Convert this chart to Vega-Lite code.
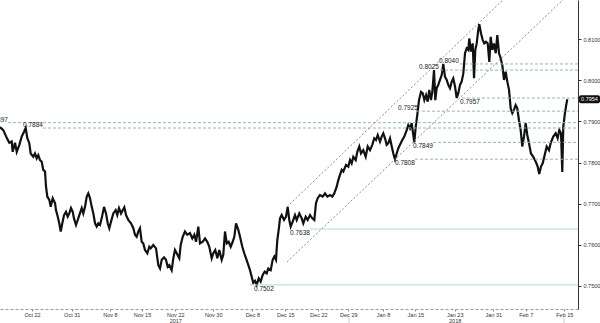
{
  "$schema": "https://vega.github.io/schema/vega-lite/v6.json",
  "width": 578,
  "height": 309,
  "autosize": {"type": "none"},
  "padding": {"left": 0, "top": 0, "right": 22, "bottom": 14},
  "background": "white",
  "config": {"view": {"stroke": null}, "font": "Liberation Sans"},
  "datasets": {
    "price": [
      {"t":-5.79,"v":0.7886},{"t":-5.27,"v":0.7879},{"t":-4.73,"v":0.7860},{"t":-4.32,"v":0.7848},{"t":-3.94,"v":0.7851},{"t":-3.79,"v":0.7826},{"t":-3.42,"v":0.7848},{"t":-3.15,"v":0.7826},{"t":-2.74,"v":0.7843},{"t":-2.37,"v":0.7863},{"t":-2.00,"v":0.7875},{"t":-1.74,"v":0.7884},{"t":-1.48,"v":0.7859},{"t":-1.17,"v":0.7847},{"t":-0.95,"v":0.7822},{"t":-0.54,"v":0.7814},{"t":-0.27,"v":0.7822},{"t":0,"v":0.7810},{"t":0.25,"v":0.7818},{"t":0.52,"v":0.7806},{"t":0.79,"v":0.7802},{"t":1.04,"v":0.7782},{"t":1.31,"v":0.7778},{"t":1.47,"v":0.7741},{"t":1.67,"v":0.7717},{"t":1.99,"v":0.7709},{"t":2.21,"v":0.7692},{"t":2.52,"v":0.7713},{"t":2.89,"v":0.7701},{"t":3.04,"v":0.7684},{"t":3.25,"v":0.7672},{"t":3.56,"v":0.7652},{"t":3.79,"v":0.7632},{"t":4.04,"v":0.7652},{"t":4.31,"v":0.7672},{"t":4.62,"v":0.7680},{"t":4.89,"v":0.7668},{"t":5.14,"v":0.7676},{"t":5.41,"v":0.7689},{"t":5.68,"v":0.7680},{"t":5.88,"v":0.7664},{"t":6.20,"v":0.7648},{"t":6.47,"v":0.7660},{"t":6.72,"v":0.7672},{"t":7.10,"v":0.7689},{"t":7.35,"v":0.7676},{"t":7.62,"v":0.7692},{"t":7.89,"v":0.7717},{"t":8.14,"v":0.7725},{"t":8.41,"v":0.7713},{"t":8.68,"v":0.7692},{"t":8.93,"v":0.7676},{"t":9.20,"v":0.7652},{"t":9.46,"v":0.7644},{"t":9.72,"v":0.7652},{"t":9.98,"v":0.7648},{"t":10.25,"v":0.7664},{"t":10.62,"v":0.7692},{"t":10.93,"v":0.7676},{"t":11.20,"v":0.7652},{"t":11.45,"v":0.7640},{"t":11.72,"v":0.7656},{"t":12.08,"v":0.7676},{"t":12.46,"v":0.7684},{"t":12.71,"v":0.7672},{"t":12.98,"v":0.7689},{"t":13.30,"v":0.7676},{"t":13.56,"v":0.7684},{"t":13.82,"v":0.7691},{"t":14.09,"v":0.7672},{"t":14.45,"v":0.7660},{"t":14.87,"v":0.7652},{"t":15.24,"v":0.7640},{"t":15.50,"v":0.7624},{"t":15.77,"v":0.7619},{"t":16.03,"v":0.7632},{"t":16.29,"v":0.7640},{"t":16.56,"v":0.7607},{"t":16.81,"v":0.7603},{"t":17.08,"v":0.7587},{"t":17.45,"v":0.7579},{"t":17.76,"v":0.7595},{"t":17.98,"v":0.7591},{"t":18.39,"v":0.7599},{"t":18.82,"v":0.7591},{"t":19.18,"v":0.7550},{"t":19.45,"v":0.7542},{"t":19.72,"v":0.7563},{"t":20.08,"v":0.7569},{"t":20.39,"v":0.7563},{"t":20.66,"v":0.7546},{"t":20.92,"v":0.7550},{"t":21.29,"v":0.7538},{"t":21.55,"v":0.7567},{"t":21.81,"v":0.7587},{"t":22.08,"v":0.7579},{"t":22.49,"v":0.7567},{"t":22.71,"v":0.7599},{"t":23.03,"v":0.7619},{"t":23.39,"v":0.7632},{"t":23.75,"v":0.7624},{"t":24.18,"v":0.7628},{"t":24.54,"v":0.7615},{"t":24.86,"v":0.7624},{"t":25.13,"v":0.7607},{"t":25.49,"v":0.7644},{"t":25.76,"v":0.7603},{"t":26.18,"v":0.7607},{"t":26.55,"v":0.7615},{"t":26.91,"v":0.7607},{"t":27.22,"v":0.7595},{"t":27.60,"v":0.7567},{"t":27.86,"v":0.7579},{"t":28.17,"v":0.7587},{"t":28.49,"v":0.7567},{"t":28.80,"v":0.7587},{"t":29.18,"v":0.7563},{"t":29.43,"v":0.7575},{"t":29.70,"v":0.7632},{"t":29.97,"v":0.7603},{"t":30.28,"v":0.7607},{"t":30.60,"v":0.7595},{"t":30.91,"v":0.7607},{"t":31.17,"v":0.7619},{"t":31.44,"v":0.7652},{"t":31.80,"v":0.7636},{"t":32.07,"v":0.7619},{"t":32.43,"v":0.7595},{"t":32.74,"v":0.7579},{"t":33.01,"v":0.7567},{"t":33.28,"v":0.7555},{"t":33.64,"v":0.7538},{"t":33.91,"v":0.7522},{"t":34.16,"v":0.7507},{"t":34.43,"v":0.7512},{"t":34.70,"v":0.7502},{"t":35.02,"v":0.7518},{"t":35.33,"v":0.7510},{"t":35.65,"v":0.7526},{"t":35.96,"v":0.7534},{"t":36.28,"v":0.7530},{"t":36.53,"v":0.7542},{"t":36.91,"v":0.7538},{"t":37.22,"v":0.7563},{"t":37.48,"v":0.7571},{"t":37.74,"v":0.7563},{"t":37.95,"v":0.7611},{"t":38.17,"v":0.7636},{"t":38.38,"v":0.7664},{"t":38.64,"v":0.7672},{"t":39.01,"v":0.7660},{"t":39.32,"v":0.7668},{"t":39.59,"v":0.7692},{"t":39.84,"v":0.7660},{"t":40.06,"v":0.7644},{"t":40.38,"v":0.7656},{"t":40.74,"v":0.7672},{"t":41.01,"v":0.7660},{"t":41.42,"v":0.7676},{"t":41.80,"v":0.7664},{"t":42.05,"v":0.7652},{"t":42.43,"v":0.7668},{"t":42.74,"v":0.7660},{"t":43.11,"v":0.7672},{"t":43.47,"v":0.7664},{"t":43.79,"v":0.7660},{"t":44.05,"v":0.7701},{"t":44.32,"v":0.7713},{"t":44.68,"v":0.7721},{"t":45.11,"v":0.7717},{"t":45.47,"v":0.7725},{"t":45.84,"v":0.7717},{"t":46.26,"v":0.7721},{"t":46.62,"v":0.7717},{"t":46.94,"v":0.7725},{"t":47.32,"v":0.7741},{"t":47.57,"v":0.7757},{"t":47.84,"v":0.7770},{"t":48.11,"v":0.7782},{"t":48.36,"v":0.7778},{"t":48.79,"v":0.7794},{"t":49.15,"v":0.7790},{"t":49.42,"v":0.7806},{"t":49.68,"v":0.7798},{"t":49.94,"v":0.7814},{"t":50.32,"v":0.7806},{"t":50.57,"v":0.7826},{"t":50.88,"v":0.7839},{"t":51.15,"v":0.7822},{"t":51.51,"v":0.7830},{"t":51.89,"v":0.7814},{"t":52.21,"v":0.7839},{"t":52.57,"v":0.7830},{"t":52.93,"v":0.7843},{"t":53.25,"v":0.7859},{"t":53.52,"v":0.7855},{"t":53.79,"v":0.7867},{"t":54.15,"v":0.7851},{"t":54.42,"v":0.7863},{"t":54.67,"v":0.7871},{"t":54.94,"v":0.7859},{"t":55.20,"v":0.7843},{"t":55.46,"v":0.7847},{"t":55.73,"v":0.7859},{"t":56.00,"v":0.7839},{"t":56.25,"v":0.7822},{"t":56.51,"v":0.7808},{"t":56.78,"v":0.7822},{"t":57.04,"v":0.7835},{"t":57.30,"v":0.7843},{"t":57.67,"v":0.7855},{"t":57.98,"v":0.7863},{"t":58.36,"v":0.7879},{"t":58.61,"v":0.7891},{"t":58.88,"v":0.7883},{"t":59.15,"v":0.7896},{"t":59.40,"v":0.7867},{"t":59.56,"v":0.7849},{"t":59.78,"v":0.7887},{"t":60.03,"v":0.7916},{"t":60.30,"v":0.7952},{"t":60.62,"v":0.7972},{"t":60.88,"v":0.7969},{"t":61.14,"v":0.7952},{"t":61.41,"v":0.7964},{"t":61.67,"v":0.7948},{"t":61.92,"v":0.7977},{"t":62.19,"v":0.7952},{"t":62.40,"v":0.7972},{"t":62.67,"v":0.8025},{"t":62.87,"v":0.7952},{"t":63.09,"v":0.7981},{"t":63.34,"v":0.7989},{"t":63.61,"v":0.8001},{"t":63.88,"v":0.8013},{"t":64.13,"v":0.8040},{"t":64.40,"v":0.8009},{"t":64.67,"v":0.8001},{"t":64.92,"v":0.7989},{"t":65.19,"v":0.7981},{"t":65.46,"v":0.7997},{"t":65.71,"v":0.8005},{"t":65.98,"v":0.7985},{"t":66.25,"v":0.7957},{"t":66.50,"v":0.7969},{"t":66.77,"v":0.7989},{"t":67.03,"v":0.7997},{"t":67.29,"v":0.8017},{"t":67.56,"v":0.8066},{"t":67.82,"v":0.8078},{"t":68.08,"v":0.8074},{"t":68.23,"v":0.8102},{"t":68.50,"v":0.8070},{"t":68.77,"v":0.8090},{"t":68.98,"v":0.8005},{"t":69.18,"v":0.8074},{"t":69.40,"v":0.8090},{"t":69.65,"v":0.8123},{"t":69.81,"v":0.8137},{"t":70.08,"v":0.8115},{"t":70.35,"v":0.8098},{"t":70.60,"v":0.8090},{"t":70.87,"v":0.8094},{"t":71.14,"v":0.8090},{"t":71.39,"v":0.8045},{"t":71.61,"v":0.8106},{"t":71.86,"v":0.8074},{"t":72.13,"v":0.8090},{"t":72.40,"v":0.8066},{"t":72.65,"v":0.8110},{"t":72.92,"v":0.8066},{"t":73.19,"v":0.8054},{"t":73.44,"v":0.8037},{"t":73.71,"v":0.8001},{"t":73.97,"v":0.8021},{"t":74.23,"v":0.7997},{"t":74.50,"v":0.7977},{"t":74.76,"v":0.7932},{"t":75.02,"v":0.7920},{"t":75.28,"v":0.7928},{"t":75.55,"v":0.7940},{"t":75.80,"v":0.7932},{"t":76.07,"v":0.7903},{"t":76.34,"v":0.7879},{"t":76.59,"v":0.7839},{"t":76.86,"v":0.7863},{"t":77.13,"v":0.7896},{"t":77.38,"v":0.7867},{"t":77.65,"v":0.7847},{"t":77.96,"v":0.7822},{"t":78.33,"v":0.7814},{"t":78.71,"v":0.7802},{"t":79.02,"v":0.7790},{"t":79.27,"v":0.7772},{"t":79.54,"v":0.7790},{"t":79.81,"v":0.7798},{"t":80.06,"v":0.7814},{"t":80.44,"v":0.7839},{"t":80.80,"v":0.7830},{"t":81.07,"v":0.7847},{"t":81.48,"v":0.7863},{"t":81.86,"v":0.7871},{"t":82.17,"v":0.7859},{"t":82.43,"v":0.7879},{"t":82.70,"v":0.7871},{"t":82.90,"v":0.7777},{"t":83.06,"v":0.7887},{"t":83.32,"v":0.7920},{"t":83.48,"v":0.7936},{"t":83.69,"v":0.7954}
    ],
    "levels": [
      {"v":0.8040,"t":66.77,"tl":63.45,"kind":"dash","pos":"above"},
      {"v":0.8025,"t":63.61,"tl":60.30,"kind":"dash","pos":"above"},
      {"v":0.7957,"t":67.08,"tl":66.77,"kind":"dash","pos":"below"},
      {"v":0.7925,"t":59.98,"tl":56.99,"kind":"dash","pos":"above"},
      {"v":0.7897,"t":-4.53,"tl":-7.68,"kind":"dash","pos":"above"},
      {"v":0.7884,"t":0.99,"tl":-2.16,"kind":"dash","pos":"above"},
      {"v":0.7849,"t":62.51,"tl":59.35,"kind":"dash","pos":"below"},
      {"v":0.7808,"t":59.67,"tl":56.51,"kind":"dash","pos":"below"},
      {"v":0.7638,"t":43.12,"tl":39.96,"kind":"solid","pos":"below"},
      {"v":0.7502,"t":33.64,"tl":34.27,"kind":"solid","pos":"below"}
    ],
    "channels": [
      {"c":"upper","t":39.48,"v":0.7692},{"c":"upper","t":73.55,"v":0.8196},
      {"c":"lower","t":39.48,"v":0.7558},{"c":"lower","t":83.01,"v":0.8196}
    ],
    "marks": [
      {"t":49.26},{"t":83.17}
    ],
    "last": [{"v":0.7954}]
  },
  "layer": [
    {
      "data": {"name": "price"},
      "mark": {"type": "line", "color": "#111111", "strokeWidth": 2.2, "strokeJoin": "miter", "clip": true},
      "encoding": {
        "x": {
          "field": "t", "type": "quantitative", "title": null,
          "scale": {"domain": [-5.79, 85.38], "nice": false, "zero": false},
          "axis": {
            "title": null, "orient": "bottom",
            "values": [-0.74, 5.52, 11.56, 16.61, 21.86, 27.85, 34.01, 39.21, 44.42, 49.15, 54.62, 59.72, 65.93, 72.02, 77.13, 83.22],
            "tickCount": 60,
            "labelExpr": "['Oct 22','Oct 31','Nov 8','Nov 15',['Nov 22','2017'],'Nov 30','Dec 8','Dec 15','Dec 22','Dec 29','Jan 8','Jan 15',['Jan 23','2018'],'Jan 31','Feb 7','Feb 15'][indexof([-0.74,5.52,11.56,16.61,21.86,27.85,34.01,39.21,44.42,49.15,54.62,59.72,65.93,72.02,77.13,83.22], datum.value)]",
            "labelFontSize": 5.5, "labelColor": "#333333", "labelFont": "Liberation Sans",
            "labelLineHeight": 6.5, "labelPadding": 1, "labelBaseline": "top",
            "labelOverlap": false, "labelFlush": false, "labelBound": false,
            "tickSize": 2, "tickColor": "#888888",
            "domainColor": "#999999", "domainDash": [3, 2], "grid": false
          }
        },
        "y": {
          "field": "v", "type": "quantitative", "title": null,
          "scale": {"domain": [0.74433, 0.81957], "nice": false, "zero": false},
          "axis": {
            "title": null, "orient": "right",
            "values": [0.75, 0.76, 0.77, 0.78, 0.79, 0.80, 0.81],
            "tickCount": 20,
            "format": ".4f",
            "labelFontSize": 5.5, "labelColor": "#333333", "labelFont": "Liberation Sans",
            "labelPadding": 2, "tickSize": 3, "tickColor": "#333333",
            "domainColor": "#333333", "grid": false, "labelOverlap": false, "labelFlush": false
          }
        }
      }
    },
    {
      "data": {"name": "levels"},
      "mark": {"type": "rule", "strokeWidth": 1},
      "encoding": {
        "x": {"field": "t", "type": "quantitative", "title": null},
        "x2": {"datum": 85.38},
        "y": {"field": "v", "type": "quantitative", "title": null},
        "color": {"field": "kind", "type": "nominal", "scale": {"domain": ["dash", "solid"], "range": ["#93b8b0", "#b4d9d2"]}, "legend": null},
        "strokeDash": {"field": "kind", "type": "nominal", "scale": {"domain": ["dash", "solid"], "range": [[3, 2], [1, 0]]}, "legend": null},
        "strokeWidth": {"field": "kind", "type": "nominal", "scale": {"domain": ["dash", "solid"], "range": [1, 1.4]}, "legend": null}
      }
    },
    {
      "data": {"name": "channels"},
      "mark": {"type": "line", "color": "#8a8a8a", "strokeWidth": 1, "strokeDash": [2, 2], "clip": true},
      "encoding": {
        "x": {"field": "t", "type": "quantitative", "title": null},
        "y": {"field": "v", "type": "quantitative", "title": null},
        "detail": {"field": "c"}
      }
    },
    {
      "data": {"name": "marks"},
      "mark": {"type": "rule", "color": "#cccccc", "strokeWidth": 1, "clip": false},
      "encoding": {
        "x": {"field": "t", "type": "quantitative", "title": null},
        "y": {"datum": 0.7424},
        "y2": {"datum": 0.7408}
      }
    },
    {
      "data": {"name": "levels"},
      "transform": [{"filter": "datum.pos == 'above'"}],
      "mark": {"type": "text", "align": "left", "baseline": "alphabetic", "dy": -1, "fontSize": 6.5, "color": "#222222", "font": "Liberation Sans"},
      "encoding": {
        "x": {"field": "tl", "type": "quantitative", "title": null},
        "y": {"field": "v", "type": "quantitative", "title": null},
        "text": {"field": "v", "type": "quantitative", "format": ".4f"}
      }
    },
    {
      "data": {"name": "levels"},
      "transform": [{"filter": "datum.pos == 'below'"}],
      "mark": {"type": "text", "align": "left", "baseline": "top", "dy": 1, "fontSize": 6.5, "color": "#222222", "font": "Liberation Sans"},
      "encoding": {
        "x": {"field": "tl", "type": "quantitative", "title": null},
        "y": {"field": "v", "type": "quantitative", "title": null},
        "text": {"field": "v", "type": "quantitative", "format": ".4f"}
      }
    },
    {
      "data": {"name": "last"},
      "mark": {"type": "rect", "color": "#111111", "cornerRadius": 2, "clip": false},
      "encoding": {
        "x": {"datum": 85.54},
        "x2": {"datum": 88.85},
        "y": {"datum": 0.7964},
        "y2": {"datum": 0.7944}
      }
    },
    {
      "data": {"name": "last"},
      "mark": {"type": "text", "color": "white", "fontSize": 5.5, "align": "center", "baseline": "middle", "font": "Liberation Sans", "clip": false},
      "encoding": {
        "x": {"datum": 87.19},
        "y": {"field": "v", "type": "quantitative", "title": null},
        "text": {"field": "v", "type": "quantitative", "format": ".4f"}
      }
    }
  ]
}
